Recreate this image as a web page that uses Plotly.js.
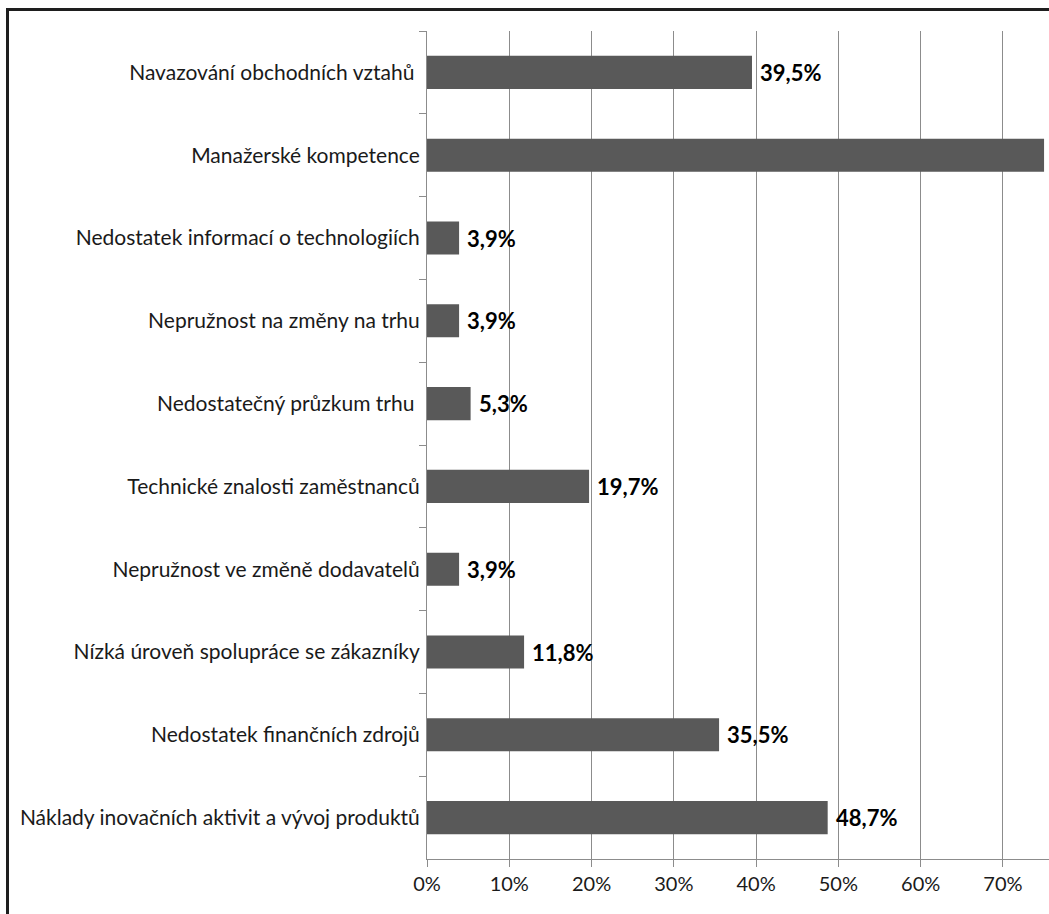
<!DOCTYPE html>
<html>
<head>
<meta charset="utf-8">
<script src="https://cdn.plot.ly/plotly-3.0.1.min.js"></script>
<style>
  html, body { margin: 0; padding: 0; background: #fff; overflow: hidden; }
  #chart { position: absolute; left: 0; top: 0; width: 1049px; height: 914px; }
  #frame { position: absolute; left: 6px; top: 8px; width: 1100px; height: 1000px;
           border-left: 3px solid #1e1e1e; border-top: 3px solid #1e1e1e; pointer-events: none; }
</style>
</head>
<body>
<div id="chart"></div>
<div id="frame"></div>
<script>
const categories = [
  "Navazování obchodních vztahů\u00a0",
  "Manažerské kompetence",
  "Nedostatek informací o technologiích",
  "Nepružnost na změny na trhu",
  "Nedostatečný průzkum trhu\u00a0",
  "Technické znalosti zaměstnanců",
  "Nepružnost ve změně dodavatelů",
  "Nízká úroveň spolupráce se zákazníky",
  "Nedostatek finančních zdrojů",
  "Náklady inovačních aktivit a vývoj produktů"
];
const values = [39.5, 75.0, 3.9, 3.9, 5.3, 19.7, 3.9, 11.8, 35.5, 48.7];
const tickValues = [0, 10, 20, 30, 40, 50, 60, 70];
const tickLabels = ["0%", "10%", "20%", "30%", "40%", "50%", "60%", "70%"];

const fmt = v => v.toFixed(1).replace('.', ',') + '%';

const trace = {
  type: 'bar',
  orientation: 'h',
  x: values,
  y: categories,
  marker: { color: '#595959', line: { width: 0 } },
  hoverinfo: 'none'
};

const annotations = values.map((v, i) => ({
  x: v, y: categories[i], xref: 'x', yref: 'y',
  text: fmt(v), showarrow: false, xanchor: 'left', yanchor: 'middle',
  xshift: 6,
  font: { family: 'Lato, "Open Sans", sans-serif', size: 22, color: '#000', weight: 'bold' }
}));

const layout = {
  width: 1049, height: 914,
  margin: { l: 427, r: 0, t: 31, b: 55, pad: 0 },
  paper_bgcolor: '#fff', plot_bgcolor: '#fff',
  showlegend: false,
  bargap: 0.6,
  font: { family: 'Lato, "Open Sans", sans-serif', size: 19, color: '#1a1a1a' },
  xaxis: {
    range: [0, 75.6],
    tickvals: tickValues, ticktext: tickLabels,
    showgrid: true, gridcolor: '#8c8c8c', gridwidth: 1,
    showline: true, linecolor: '#8c8c8c', linewidth: 1,
    ticks: 'outside', ticklen: 7, tickcolor: '#8c8c8c',
    zeroline: false, fixedrange: true,
    tickfont: { size: 20, color: '#1a1a1a' }
  },
  yaxis: {
    type: 'category',
    autorange: 'reversed',
    tickson: 'boundaries',
    ticks: 'outside', ticklen: 7, tickcolor: '#8c8c8c',
    showline: true, linecolor: '#8c8c8c', linewidth: 1,
    showgrid: false, zeroline: false, fixedrange: true,
    ticklabelstandoff: 2,
    tickfont: { size: 21, color: '#1a1a1a' }
  },
  annotations: annotations
};

Plotly.newPlot('chart', [trace], layout, { staticPlot: true, displayModeBar: false });
</script>
</body>
</html>
